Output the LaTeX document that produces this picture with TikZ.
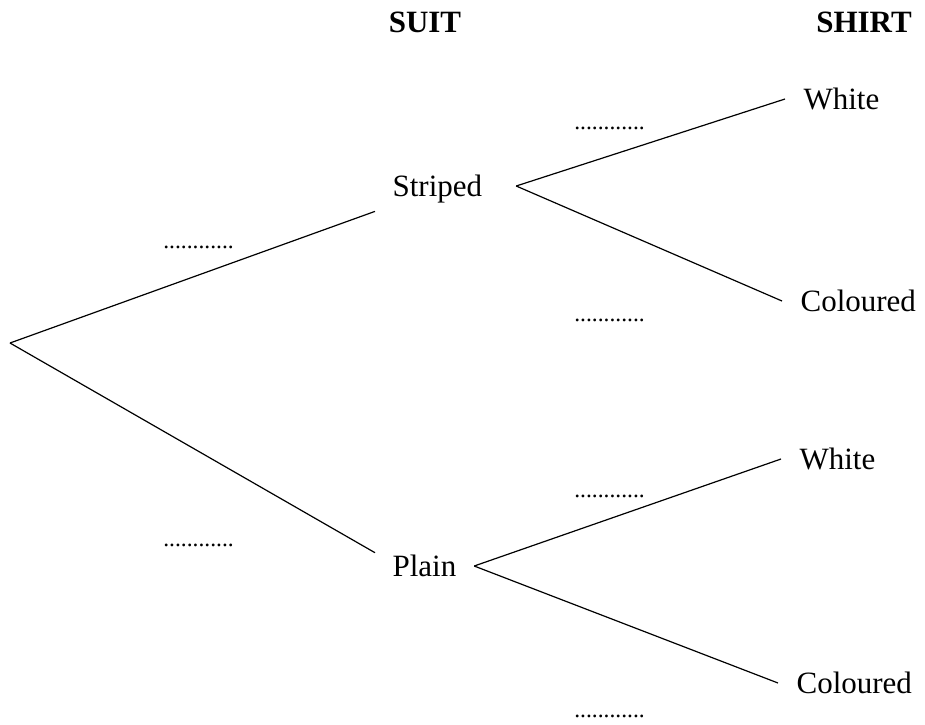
\documentclass[tikz,border=0pt]{standalone}
\usepackage{fontspec}
\setmainfont{Liberation Serif}
\begin{document}
\begin{tikzpicture}[x=1pt, y=-1pt, line width=1.2pt,
  branchtext/.style={font=\fontsize{31}{36}\selectfont, inner xsep=17pt, inner ysep=15pt, text height=21pt, text depth=0pt},
  headtext/.style={font=\fontsize{31}{36}\selectfont\bfseries, anchor=base, inner sep=0pt},
  blank/.style={font=\fontsize{23.5}{28}\selectfont, anchor=base, inner sep=0pt}]
\useasboundingbox (0,0) rectangle (925,724);

% Headings
\node[headtext] (suit) at (425,32) {SUIT};
\node[headtext] (shirt) at (864,32) {SHIRT};

% Root
\coordinate (root) at (10,343);

% Suit
\node[branchtext, anchor=west, text width=106pt, align=left] (striped) at (375,186) {Striped};
\node[branchtext, anchor=west, text width=64pt, align=left] (plain) at (375,566) {Plain};

% Shirt
\node[branchtext, anchor=west, inner xsep=18pt] (stwhite) at (785,99) {White};
\node[branchtext, anchor=west, inner xsep=18pt] (stcol) at (782,301) {Coloured};
\node[branchtext, anchor=west, inner xsep=18pt] (plwhite) at (781,459) {White};
\node[branchtext, anchor=west, inner xsep=18pt] (plcol) at (778,683) {Coloured};

% Probabilities
\node[blank] (pstriped) at (198.5,248) {............};
\node[blank] (pplain) at (198.5,546) {............};
\node[blank] (pstwhite) at (609.5,129) {............};
\node[blank] (pstcol) at (609.5,321) {............};
\node[blank] (pplwhite) at (609.5,497) {............};
\node[blank] (pplcol) at (609.5,717) {............};

% Branches
\draw (root) -- (striped);
\draw (root) -- (plain.165);
\draw (striped.east) -- (stwhite.west);
\draw (striped.east) -- (stcol.west);
\draw (plain.east) -- (plwhite.west);
\draw (plain.east) -- (plcol.west);
\end{tikzpicture}
\end{document}
